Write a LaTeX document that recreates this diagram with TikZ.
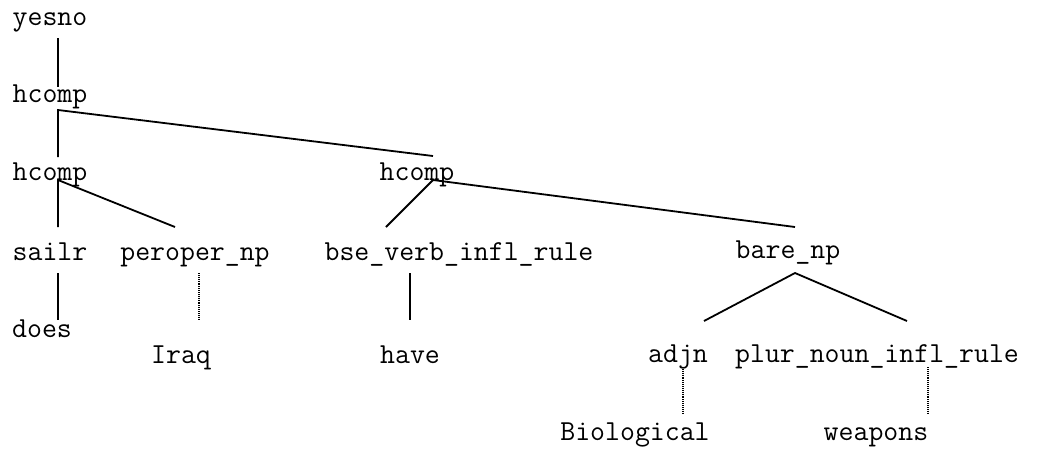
\documentclass[tikz,border=0pt]{standalone}
\usepackage{fontspec}
\usetikzlibrary{positioning}
\tikzset{
cat/.style = {inner sep = 0pt, anchor = base, font = \ttfamily\fontsize{29}{29}\selectfont},
word/.style = {cat},
branch/.style = {draw = black, line width = 1.8pt},
lex link/.style = {draw = black, line width = 1.1pt, dash pattern = on 1pt off 0.9pt},
}

\begin{document}
\begin{tikzpicture}[x = 1pt, y = -1pt]
      \useasboundingbox (0, 0) rectangle (1051, 448);
      % categories
      \node[cat] (yesno) at (50, 25) {yesno};
      \node[cat] (hcompA) at (50, 102) {hcomp};
      \node[cat] (hcompB) at (50, 180) {hcomp};
      \node[cat] (hcompC) at (417, 180) {hcomp};
      \node[cat] (sailr) at (50, 260) {sailr};
      \node[cat] (peroper) at (195, 260) {peroper\_np};
      \node[cat] (bse) at (459, 260) {bse\_verb\_infl\_rule};
      \node[cat] (bare) at (788, 258) {bare\_np};
      \node[cat] (adjn) at (678, 362) {adjn};
      \node[cat] (plur) at (877, 362) {plur\_noun\_infl\_rule};
      % words
      \node[word] (does) at (42, 337) {does};
      \node[word] (iraq) at (181, 363) {Iraq};
      \node[word] (have) at (410, 363) {have};
      \node[word] (bio) at (635, 440) {Biological};
      \node[word] (weapons) at (876, 440) {weapons};
      % branches
      \path[branch] ([shift = {(8, 13)}]yesno.base) -- ([shift = {(8, -15)}]hcompA.base);
      \path[branch] ([shift = {(8, -23)}]hcompB.base) -- ([shift = {(8, 8)}]hcompA.base) -- ([shift = {(16, -24)}]hcompC.base);
      \path[branch] ([shift = {(8, -33)}]sailr.base) -- ([shift = {(8, 0)}]hcompB.base) -- ([shift = {(-20, -33)}]peroper.base);
      \path[branch] ([shift = {(-73, -33)}]bse.base) -- ([shift = {(16, 0)}]hcompC.base) -- ([shift = {(7, -31)}]bare.base);
      \path[branch] ([shift = {(26, -41)}]adjn.base) -- ([shift = {(7, 15)}]bare.base) -- ([shift = {(30, -41)}]plur.base);
      \path[branch] ([shift = {(8, 13)}]sailr.base) -- ([shift = {(16, -17)}]does.base);
      \path[branch] ([shift = {(-49, 13)}]bse.base) -- ([shift = {(0, -43)}]have.base);
      % lexical links
      \path[lex link] ([shift = {(4, 13)}]peroper.base) -- ([shift = {(18, -44)}]iraq.base);
      \path[lex link] ([shift = {(5, 5)}]adjn.base) -- ([shift = {(48, -27)}]bio.base);
      \path[lex link] ([shift = {(51, 5)}]plur.base) -- ([shift = {(52, -27)}]weapons.base);
\end{tikzpicture}
\end{document}
